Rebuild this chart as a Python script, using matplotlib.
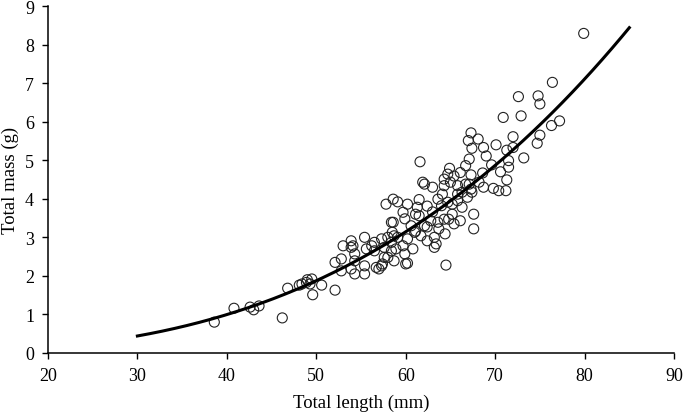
import matplotlib
matplotlib.use("Agg")
import matplotlib.pyplot as plt
import numpy as np

# total length (mm) and total mass (g)
length_mm = [
    38.6, 40.8, 42.6, 43.0, 43.6, 46.2, 46.8, 48.1, 48.4, 48.9, 49.0, 49.3, 49.5, 49.6, 50.6, 52.1,
    52.1, 52.8, 53.0, 53.9, 54.1, 54.3, 52.8, 53.9, 54.3, 55.4, 55.6, 55.4, 55.4, 56.5, 56.5, 56.7,
    57.0, 57.4, 58.0, 58.0, 58.4, 57.8, 58.6, 59.1, 60.2, 61.5, 59.7, 59.9, 61.3, 61.5, 58.6, 53.9,
    56.2, 58.7, 54.3, 58.7, 60.2, 57.3, 58.4, 59.1, 59.7, 60.2, 61.0, 61.7, 62.4, 63.2, 63.4, 63.2,
    57.6, 58.4, 58.9, 59.9, 60.8, 57.6, 60.0, 57.3, 64.5, 60.6, 62.1, 62.8, 63.6, 64.3, 65.2, 65.4,
    66.1, 64.8, 63.6, 64.0, 64.7, 65.8, 66.3, 66.9, 67.4, 67.6, 67.6, 62.1, 63.0, 64.3, 65.0, 65.8,
    67.1, 61.6, 61.9, 67.3, 67.0, 67.4, 67.1, 66.7, 64.9, 64.7, 64.3, 66.1, 67.3, 68.1, 68.7, 69.0,
    68.6, 68.2, 67.3, 68.7, 69.8, 70.4, 71.2, 69.6, 70.6, 71.3, 71.5, 71.5, 73.2, 71.3, 72.0, 70.1,
    72.0, 74.7, 75.0, 76.3, 77.2, 70.9, 72.9, 72.6, 74.8, 75.0, 76.4, 79.9, 63.7, 64.4, 62.4, 65.2,
    65.8, 64.1, 62.4, 61.1, 63.0, 66.3, 66.7, 65.4, 61.1, 58.5,
]
mass_g = [
    0.80, 1.16, 1.19, 1.12, 1.22, 0.91, 1.68, 1.76, 1.79, 1.83, 1.90, 1.79, 1.92, 1.51, 1.76, 1.63,
    2.35, 2.44, 2.78, 2.91, 2.78, 2.57, 2.13, 2.18, 2.05, 3.00, 2.70, 2.26, 2.05, 2.87, 2.65, 2.22,
    2.18, 2.31, 2.48, 3.00, 3.39, 3.86, 3.99, 3.92, 3.86, 3.98, 3.65, 3.48, 3.78, 3.56, 3.39, 2.74,
    2.78, 3.04, 2.39, 2.39, 2.33, 2.96, 2.87, 3.00, 2.78, 2.96, 3.13, 3.04, 2.91, 3.00, 2.83, 2.74,
    2.74, 2.65, 2.70, 2.57, 2.70, 2.48, 2.31, 2.26, 2.28, 3.30, 3.30, 3.43, 3.39, 3.47, 3.60, 3.35,
    3.43, 3.47, 3.99, 3.82, 3.91, 3.95, 3.78, 4.04, 4.17, 3.60, 3.22, 4.38, 4.30, 4.34, 4.43, 4.34,
    4.38, 4.96, 4.43, 5.71, 5.51, 5.31, 5.03, 4.86, 4.79, 4.64, 4.51, 4.68, 4.62, 5.55, 5.33, 5.11,
    4.67, 4.43, 4.25, 4.30, 4.27, 4.21, 4.21, 4.88, 4.70, 4.49, 4.99, 4.82, 5.06, 5.26, 5.33, 5.40,
    5.61, 5.44, 5.65, 5.90, 6.02, 6.11, 6.15, 6.65, 6.67, 6.46, 7.02, 8.29, 3.22, 3.09, 3.27, 3.86,
    4.12, 4.12, 3.81, 3.60, 3.66, 4.17, 4.38, 4.59, 3.16, 3.13,
]

# fitted power curve W = a * L^b
fit_a = 2.86e-5
fit_b = 2.835
fit_range = (30, 85)

plt.rcParams['font.family'] = ['Liberation Serif', 'DejaVu Serif']

fig = plt.figure(figsize=(6.85, 4.14), dpi=100)
ax = fig.add_axes([0.070, 0.145, 0.914, 0.838])

ax.scatter(length_mm, mass_g, s=52, facecolors='none', edgecolors='#222222',
           linewidths=0.8, zorder=2)

fit_x = np.linspace(fit_range[0], fit_range[1], 200)
ax.plot(fit_x, fit_a * fit_x ** fit_b, color='black', linewidth=2.2, zorder=3)

ax.set_xlim(20, 90)
ax.set_ylim(0, 9)
ax.set_xticks(range(20, 91, 10))
ax.set_yticks(range(0, 10))

for side in ['top', 'right']:
    ax.spines[side].set_visible(False)
for side in ['left', 'bottom']:
    ax.spines[side].set_linewidth(1.1)

ax.tick_params(direction='out', length=4, width=1.0, labelsize=13, pad=6)

ax.set_xlabel('Total length (mm)', fontsize=13.5, labelpad=7)
ax.set_ylabel('Total mass (g)', fontsize=13.5, labelpad=4)

fig.savefig('out.png', dpi=100)
